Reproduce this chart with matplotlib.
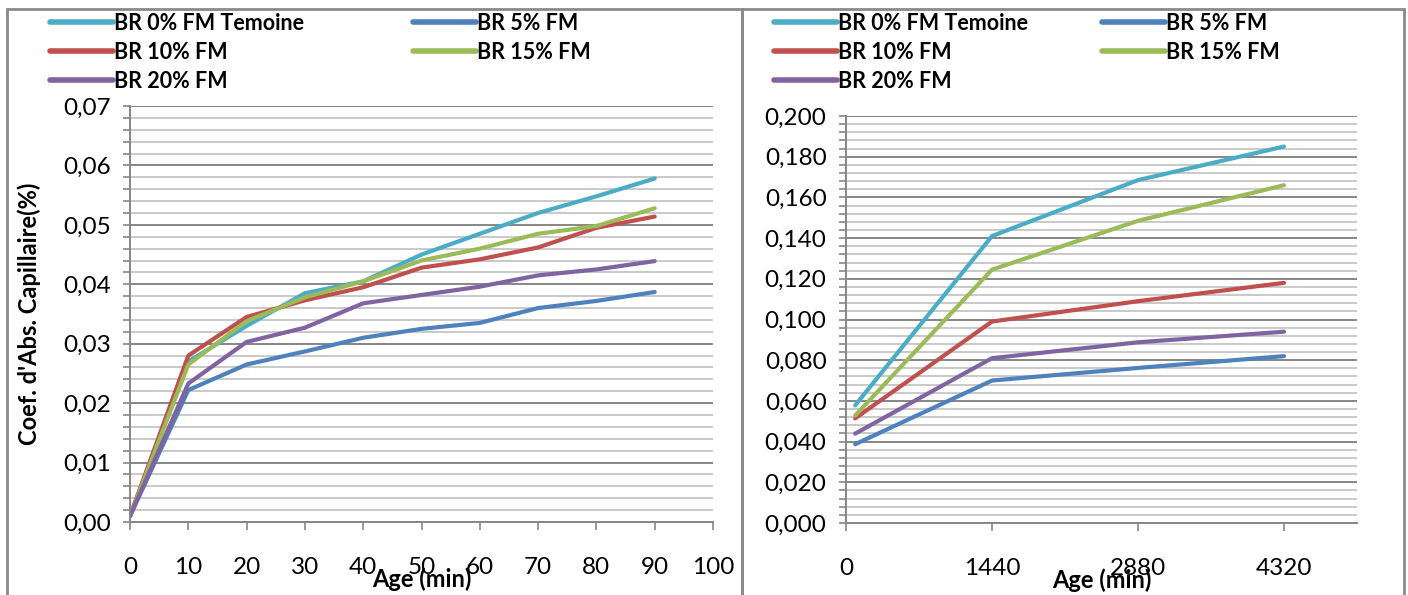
import matplotlib
matplotlib.use("Agg")
import matplotlib.pyplot as plt
from matplotlib.patches import Rectangle
from matplotlib.lines import Line2D
from matplotlib.ticker import MultipleLocator, FuncFormatter

plt.rcParams['font.family'] = ['Lato', 'DejaVu Sans']

# data
series_names = ["BR 0% FM Temoine", "BR 5% FM", "BR 10% FM", "BR 15% FM", "BR 20% FM"]
colors = ["#4bacc6", "#4f81bd", "#c0504d", "#9bbb59", "#8064a2"]

age_short = [0, 10, 20, 30, 40, 50, 60, 70, 80, 90]
short_0 = [0.001, 0.0270, 0.0330, 0.0385, 0.0405, 0.0450, 0.0485, 0.0520, 0.0548, 0.0578]
short_5 = [0.001, 0.0222, 0.0265, 0.0287, 0.0310, 0.0325, 0.0335, 0.0360, 0.0372, 0.0387]
short_10 = [0.001, 0.0280, 0.0345, 0.0373, 0.0395, 0.0428, 0.0442, 0.0462, 0.0495, 0.0514]
short_15 = [0.001, 0.0265, 0.0338, 0.0378, 0.0405, 0.0440, 0.0460, 0.0485, 0.0498, 0.0528]
short_20 = [0.001, 0.0233, 0.0303, 0.0327, 0.0368, 0.0382, 0.0396, 0.0415, 0.0425, 0.0439]

age_long = [90, 1440, 2880, 4320]
long_0 = [0.0578, 0.141, 0.1685, 0.185]
long_5 = [0.0387, 0.070, 0.0762, 0.082]
long_10 = [0.0514, 0.099, 0.109, 0.118]
long_15 = [0.0528, 0.1245, 0.1485, 0.166]
long_20 = [0.0439, 0.081, 0.0888, 0.094]

W, H = 1408, 595
fig = plt.figure(figsize=(W / 100, H / 100), dpi=100)

def px(x0, y0, x1, y1):
    return [x0 / W, 1 - y1 / H, (x1 - x0) / W, (y1 - y0) / H]

# panel frames
for x0, x1 in [(7, 742), (742, 1404)]:
    fig.patches.append(Rectangle((x0 / W, -0.02), (x1 - x0) / W, 1 - 9 / H + 0.02,
                                 transform=fig.transFigure, fill=False,
                                 edgecolor="#8a8a8a", linewidth=2))

grid_major = "#868686"
grid_minor = "#c0c0c0"

def style_axes(ax, fmt, major, minor):
    ax.yaxis.set_major_locator(MultipleLocator(major))
    ax.yaxis.set_minor_locator(MultipleLocator(minor))
    ax.yaxis.set_major_formatter(FuncFormatter(lambda v, p: fmt.format(v).replace('.', ',')))
    ax.grid(True, which='major', axis='y', color=grid_major, linewidth=1.4)
    ax.grid(True, which='minor', axis='y', color=grid_minor, linewidth=1.2)
    ax.set_axisbelow(True)
    for s in ['top', 'right']:
        ax.spines[s].set_visible(False)
    for s in ['left', 'bottom']:
        ax.spines[s].set_color(grid_major)
        ax.spines[s].set_linewidth(1.4)
    ax.tick_params(axis='y', which='both', direction='out', length=5, color=grid_major,
                   width=1.2, labelsize=17.5, pad=9)
    ax.tick_params(axis='x', which='major', direction='out', length=6, color=grid_major,
                   width=1.2, labelsize=17.5, pad=19)

series_short = [short_0, short_5, short_10, short_15, short_20]
series_long = [long_0, long_5, long_10, long_15, long_20]

# left panel
ax1 = fig.add_axes(px(130, 106, 713, 522))
for name, ys, c in zip(series_names, series_short, colors):
    ax1.plot(age_short, ys, color=c, linewidth=3, solid_capstyle='round', label=name)
ax1.set_xlim(0, 100)
ax1.set_ylim(0, 0.07)
ax1.xaxis.set_major_locator(MultipleLocator(10))
style_axes(ax1, "{:.2f}", 0.01, 0.002)
ax1.set_xlabel("Age (min)", fontsize=17, fontweight='bold')
ax1.xaxis.set_label_coords(0.5, -0.11)
ax1.set_ylabel("Coef. d'Abs. Capillaire(%)", fontsize=17, fontweight='bold')
ax1.yaxis.set_label_coords(-0.153, 0.5)

# right panel
ax2 = fig.add_axes(px(846, 116, 1357, 523))
for name, ys, c in zip(series_names, series_long, colors):
    ax2.plot(age_long, ys, color=c, linewidth=3, solid_capstyle='round', label=name)
ax2.set_xlim(0, 5040)
ax2.set_ylim(0, 0.2)
ax2.set_xticks([0, 1440, 2880, 4320])
style_axes(ax2, "{:.3f}", 0.02, 0.004)
ax2.set_xlabel("Age (min)", fontsize=17, fontweight='bold')
ax2.xaxis.set_label_coords(0.5, -0.112)

# legends: two columns per panel, filled row by row
columns = [[0, 2, 4], [1, 3]]
for col_x in [[49.5, 412.5], [773.5, 1101.5]]:
    for idx, x_anchor in zip(columns, col_x):
        handles = [Line2D([], [], color=colors[i], linewidth=4, solid_capstyle='round') for i in idx]
        labels = [series_names[i] for i in idx]
        fig.legend(handles, labels, loc='upper left', bbox_to_anchor=(x_anchor / W, 1 - 13 / H),
                   ncol=1, frameon=False, prop={'weight': 'bold', 'size': 15.5},
                   handlelength=2.95, handletextpad=0.05, labelspacing=0.36,
                   borderpad=0, borderaxespad=0)

fig.savefig("out.png", dpi=100)
